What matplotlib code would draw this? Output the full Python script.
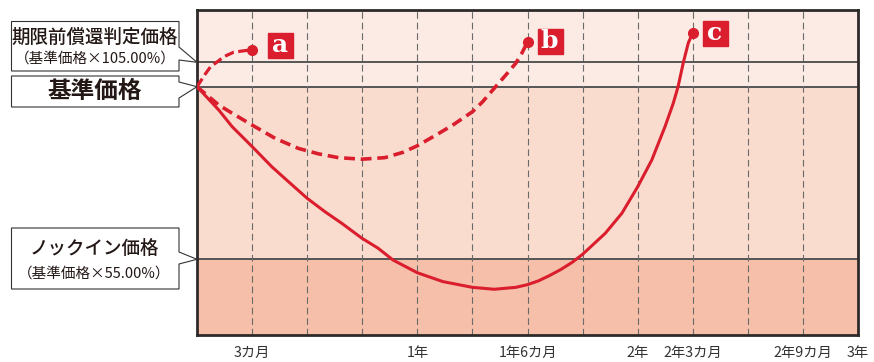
import numpy as np
import matplotlib
matplotlib.use("Agg")
import matplotlib.pyplot as plt
from matplotlib.patches import Polygon
from matplotlib.transforms import offset_copy

# price levels (% of base price)
early_level = 105.0
base_level = 100.0
knock_in_level = 55.0

# path a: early redemption at 3 months
months_a = [0, 0.47, 0.74, 1.07, 1.46, 2.0, 2.55, 3.0]
price_a = [100, 102.7, 104.1, 105.0, 106.6, 107.9, 108.3, 108.6]

# path b: early redemption at 18 months
months_b = [0, 1.19, 1.91, 3.0, 4.27, 5.53, 6.61, 7.7, 8.98, 10.23, 11.22,
            12.0, 13.02, 13.93, 15.01, 15.56, 16.19, 16.82, 17.36, 17.69, 18.0]
price_b = [100, 95.2, 93.1, 90.0, 86.5, 83.9, 82.5, 81.5, 81.1, 81.5, 82.9,
           84.6, 87.4, 90.0, 93.5, 96.1, 99.6, 102.4, 104.8, 107.6, 110.8]

# path c: knock-in touched, redemption at 27 months
months_c = [0, 1.19, 1.91, 3.0, 4.08, 4.99, 6.0, 6.97, 7.88, 8.98, 9.86,
            10.68, 12.0, 13.39, 15.0, 16.19, 17.36, 18.0, 18.6, 19.17, 19.8,
            20.43, 21.0, 22.24, 23.14, 24.0, 24.77, 25.49, 25.94, 26.2, 26.49,
            26.76, 27.0]
price_c = [100, 93.9, 89.6, 84.4, 79.1, 75.2, 70.9, 67.4, 64.4, 60.5, 57.9,
           54.8, 51.5, 49.2, 47.7, 47.2, 47.7, 48.4, 49.4, 50.7, 52.3,
           54.2, 56.3, 61.8, 67.0, 73.9, 80.9, 89.6, 95.7, 100, 105,
           110.6, 113.4]

grid_months = list(range(3, 36, 3))
tick_months = [3, 12, 18, 24, 27, 33, 36]
tick_labels = ["3カ月", "1年", "1年6カ月", "2年", "2年3カ月", "2年9カ月", "3年"]

RED = "#DA1E2D"
INK = "#231815"
JP = ["Noto Sans CJK JP", "DejaVu Sans"]

# schematic (non-linear) vertical scale of the original drawing
scale_vals = [0, 35.3, 55, 100, 105, 120, 200]
scale_pos = [-470.4, -335, -259.3, -86.7, -62.3, -10, 267.6]


def fwd(v):
    return np.interp(v, scale_vals, scale_pos)


def inv(p):
    return np.interp(p, scale_pos, scale_vals)


W, H = 874, 362
fig = plt.figure(figsize=(W / 100, H / 100), dpi=100)
ax = fig.add_axes([197 / W, (H - 335) / H, 661 / W, 325 / H])
ax.set_yscale("function", functions=(fwd, inv))
ax.set_xlim(0, 36)
ax.set_ylim(35.3, 120)

# background bands
ax.axhspan(base_level, 120, color="#FBEBE4", zorder=0)
ax.axhspan(knock_in_level, base_level, color="#FADCCF", zorder=0)
ax.axhspan(35.3, knock_in_level, color="#F5BFAA", zorder=0)
for lvl in [early_level, base_level, knock_in_level]:
    ax.axhline(lvl, color="#555555", lw=1.4, zorder=1)

# quarter grid
for gm in grid_months:
    ax.axvline(gm, color="#6a6a6a", lw=0.8, ls=(0, (6, 3.5)), zorder=1)
ax.set_xticks(tick_months)
ax.set_xticklabels(tick_labels, family=JP, fontsize=10.3, color="#333333")
ax.tick_params(which="both", length=0, pad=8)
ax.set_yticks([])
ax.set_yticks([], minor=True)
ax.set_xticks([], minor=True)
for s in ax.spines.values():
    s.set_color("#2e2a2a")
    s.set_linewidth(2.0)

# paths
ax.plot(months_a, price_a, color=RED, lw=2.3, dashes=(3, 1.4), zorder=3)
ax.plot(months_b, price_b, color=RED, lw=2.6, dashes=(3, 1.6), zorder=3)
ax.plot(months_c, price_c, color=RED, lw=2.2, zorder=3)

offsets = [(28, 5), (22, 1), (22, 0)]
for m, p, letter, off in zip([months_a, months_b, months_c],
                             [price_a, price_b, price_c], "abc", offsets):
    ax.plot(m[-1], p[-1], "o", color=RED, ms=7, zorder=4)
    tr = offset_copy(ax.transData, fig=fig, x=off[0], y=off[1], units="dots")
    ax.plot(m[-1], p[-1], "s", color=RED, ms=18, transform=tr, clip_on=False, zorder=5)
    ax.text(m[-1], p[-1], letter, transform=tr, ha="center", va="center",
            color="white", fontsize=18, fontweight="bold", family="DejaVu Serif",
            zorder=6)


# callout boxes on the left
def fig_xy(x, y):
    return (x / W, 1 - y / H)


def callout(x0, y0, x1, y1, level, notch_top, notch_bot):
    tip = ax.transData.transform((0, level))
    tip_y = H - tip[1]
    tip_x = 197
    pts = [(x0, y0), (x1, y0), (x1, notch_top), (tip_x, tip_y),
           (x1, notch_bot), (x1, y1), (x0, y1)]
    poly = Polygon([fig_xy(*p) for p in pts], closed=True, fc="white",
                   ec="#333333", lw=0.8, transform=fig.transFigure, zorder=10)
    fig.patches.append(poly)


callout(11.5, 21.5, 179, 71, early_level, 47, 60)
callout(11.5, 76, 179, 107, base_level, 82, 98)
callout(11.5, 228, 179, 289, knock_in_level, 252, 264)

fig.text(*fig_xy(95, 37), "期限前償還判定価格", family=JP, fontsize=13.3,
         fontweight="medium", color=INK, ha="center", va="center", zorder=11)
fig.text(*fig_xy(95, 58.5), "（基準価格×105.00%）", family=JP, fontsize=10.5,
         color=INK, ha="center", va="center", zorder=11)
fig.text(*fig_xy(95, 91), "基準価格", family=JP, fontsize=17,
         fontweight="bold", color=INK, ha="center", va="center", zorder=11)
fig.text(*fig_xy(94, 248), "ノックイン価格", family=JP, fontsize=13.3,
         fontweight="medium", color=INK, ha="center", va="center", zorder=11)
fig.text(*fig_xy(94, 273.5), "（基準価格×55.00%）", family=JP, fontsize=10.5,
         color=INK, ha="center", va="center", zorder=11)

fig.savefig("out.png", dpi=100)
